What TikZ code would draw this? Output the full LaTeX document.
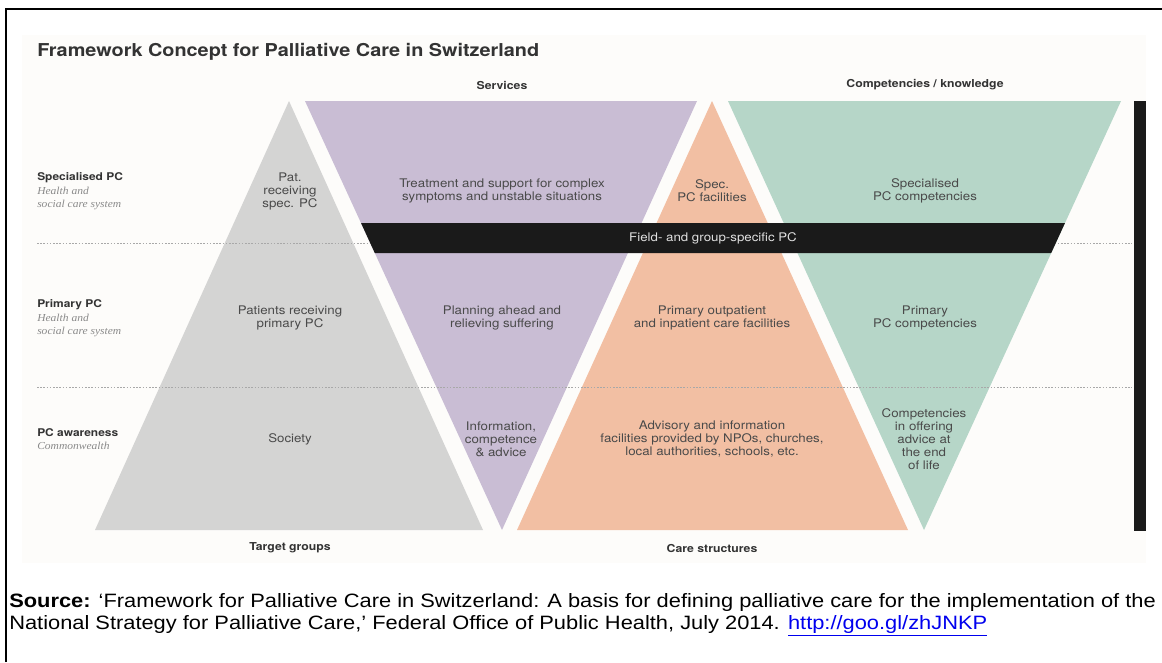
\documentclass[tikz,border=0pt]{standalone}
\usepackage{fontspec}
\setmainfont{Liberation Sans}
\newfontfamily\diagfont[FakeStretch=1.12]{TeX Gyre Heros}
\newfontfamily\noteserif[FakeStretch=1.08]{Liberation Serif}
\newfontfamily\notefont[FakeStretch=1.13]{Liberation Sans}
\usetikzlibrary{calc}

\definecolor{paper}{HTML}{FDFCFA}
\definecolor{tgray}{HTML}{D4D4D3}
\definecolor{tpurple}{HTML}{C9BDD4}
\definecolor{torange}{HTML}{F2BFA3}
\definecolor{tgreen}{HTML}{B6D6C8}
\definecolor{bandblack}{HTML}{1A1A1A}
\definecolor{inktext}{HTML}{4A4A4A}
\definecolor{headtext}{HTML}{333333}
\definecolor{notegray}{HTML}{8A8A8A}
\definecolor{dotgray}{HTML}{A8A8A8}
\definecolor{linkblue}{HTML}{0000EE}

\tikzset{
  celltext/.style={align=center, text=inktext, inner sep=0pt,
    font=\diagfont\fontsize{8.9}{9.75}\selectfont},
  headtext/.style={text=headtext, inner sep=0pt,
    font=\diagfont\bfseries\fontsize{8.2}{9.75}\selectfont},
  rowhead/.style={anchor=base west, text=headtext, inner sep=0pt,
    font=\diagfont\bfseries\fontsize{8.0}{9.75}\selectfont},
  rownote/.style={anchor=base west, text=notegray, inner sep=0pt,
    font=\noteserif\itshape\fontsize{8}{9.5}\selectfont},
  levelline/.style={dotgray, line width=0.5pt, dash pattern=on 1.2pt off 1.2pt},
  sourceline/.style={anchor=base west, inner sep=0pt,
    font=\notefont\fontsize{14.5}{16}\selectfont}
}

\begin{document}
\begin{tikzpicture}[x=0.75pt, y=-0.75pt]
\useasboundingbox (0,0) rectangle (1162,662);
\fill[white] (0,0) rectangle (1162,662);

% page frame
\draw[line width=1.5pt] (6,662) -- (6,9) -- (1162,9);

% figure background
\fill[paper] (22,35) rectangle (1146,563);

% corner points of the four triangles
\coordinate (gA) at (289,101);  \coordinate (gL) at (95,530);   \coordinate (gR) at (483,530);
\coordinate (pL) at (305,101);  \coordinate (pR) at (697,101);  \coordinate (pB) at (502,530);
\coordinate (oA) at (712,101);  \coordinate (oL) at (517,530);  \coordinate (oR) at (908,530);
\coordinate (cL) at (728,101);  \coordinate (cR) at (1121,101); \coordinate (cB) at (924,530);

\fill[tgray]   (gA) -- (gL) -- (gR) -- cycle;
\fill[tpurple] (pL) -- (pR) -- (pB) -- cycle;
\fill[torange] (oA) -- (oL) -- (oR) -- cycle;
\fill[tgreen]  (cL) -- (cR) -- (cB) -- cycle;

% level separators
\draw[levelline] (37,243) -- (1132,243);
\draw[levelline] (37,387) -- (1132,387);

% cross-cutting band, its ends following the outer triangle sides
\coordinate (bTL) at ($(pL)!0.2844!(pB)$);
\coordinate (bBL) at ($(pL)!0.3543!(pB)$);
\coordinate (bTR) at ($(cR)!0.2844!(cB)$);
\coordinate (bBR) at ($(cR)!0.3543!(cB)$);
\fill[bandblack] (bTL) -- (bTR) -- (bBR) -- (bBL) -- cycle;
\node[celltext, text=black!12] (band) at (713,238) {Field- and group-specific PC};

% vertical bar on the right
\fill[bandblack] (1134,101) rectangle (1146,531);

% title and column headings
\node[anchor=west, inner sep=0pt, text=headtext,
  font=\diagfont\bfseries\fontsize{13.3}{15}\selectfont] (title) at (37,52)
  {Framework Concept for Palliative Care in Switzerland};
\node[headtext] (hServ) at (502,85) {Services};
\node[headtext] (hComp) at (925,85) {Competencies / knowledge};
\node[headtext] (hTarget) at (290,548) {Target groups};
\node[headtext] (hCare) at (712,548) {Care structures};

% row labels
\node[rowhead] (rSpec) at (37,180) {Specialised PC};
\node[rownote] (rSpecA) at (37,194) {Health and};
\node[rownote] (rSpecB) at (37,207) {social care system};
\node[rowhead] (rPrim) at (37,307) {Primary PC};
\node[rownote] (rPrimA) at (37,321) {Health and};
\node[rownote] (rPrimB) at (37,334) {social care system};
\node[rowhead] (rAware) at (37,436) {PC awareness};
\node[rownote] (rAwareA) at (37,449) {Commonwealth};

% target groups
\node[celltext] (t1) at (290,191) {Pat.\\receiving\\spec. PC};
\node[celltext] (t2) at (290,318) {Patients receiving\\primary PC};
\node[celltext] (t3) at (290,439) {Society};

% services
\node[celltext] (s1) at (502,191) {Treatment and support for complex\\symptoms and unstable situations};
\node[celltext] (s2) at (502,318) {Planning ahead and\\relieving suffering};
\node[celltext] (s3) at (501,439) {Information,\\competence\\\& advice};

% care structures
\node[celltext] (c1) at (712,191) {Spec.\\PC facilities};
\node[celltext] (c2) at (712,318) {Primary outpatient\\and inpatient care facilities};
\node[celltext] (c3) at (712,439) {Advisory and information\\facilities provided by NPOs, churches,\\local authorities, schools, etc.};

% competencies
\node[celltext] (k1) at (925,191) {Specialised\\PC competencies};
\node[celltext] (k2) at (925,318) {Primary\\PC competencies};
\node[celltext] (k3) at (924,439) {Competencies\\in offering\\advice at\\the end\\of life};

% source note
\node[sourceline] (src1) at (9,607) {\textbf{Source:} ‘Framework for Palliative Care in Switzerland: A basis for defining palliative care for the implementation of the};
\node[sourceline] (src2) at (9,629) {National Strategy for Palliative Care,’ Federal Office of Public Health, July 2014. \textcolor{linkblue}{\underline{http://goo.gl/zhJNKP}}};
\end{tikzpicture}
\end{document}
